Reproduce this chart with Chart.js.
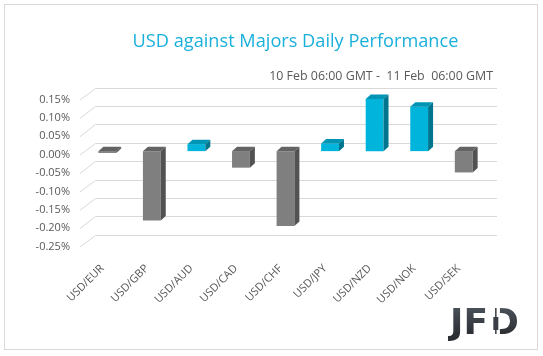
<!DOCTYPE html>
<html>
<head>
<meta charset="utf-8">
<script src="https://cdn.jsdelivr.net/npm/chart.js@4.4.1/dist/chart.umd.min.js"></script>
<style>
html,body{margin:0;padding:0;background:#fff;}
#wrap{width:543px;height:356px;position:relative;}
</style>
</head>
<body>
<div id="wrap"><canvas id="c" width="543" height="356"></canvas></div>
<script>
// ---- data ----
const categories = ['USD/EUR','USD/GBP','USD/AUD','USD/CAD','USD/CHF','USD/JPY','USD/NZD','USD/NOK','USD/SEK'];
const performance = [-0.005, -0.189, 0.019, -0.045, -0.204, 0.021, 0.142, 0.121, -0.058];
const yTickValues = [0.15, 0.10, 0.05, 0.00, -0.05, -0.10, -0.15, -0.20, -0.25];
const titleText = 'USD against Majors Daily Performance';
const subtitleText = '10 Feb 06:00 GMT -  11 Feb  06:00 GMT';
const logoText = 'JFD';

// ---- styles ----
const POS = {front:'#00B4DC', top:'#0094B5', side:'#00768E'};
const NEG = {front:'#7F7F7F', top:'#636363', side:'#525252'};
const DEPTH_X = 5, DEPTH_Y = 4.5;
const FONT = '"Open Sans", "DejaVu Sans", sans-serif';

const frontColors = performance.map(v => v >= 0 ? POS.front : NEG.front);

const framePlugin = {
  id: 'frame',
  beforeDraw(chart) {
    const ctx = chart.ctx;
    ctx.save();
    ctx.fillStyle = '#fff';
    ctx.fillRect(0, 0, chart.width, chart.height);
    ctx.strokeStyle = '#D9D9D9';
    ctx.lineWidth = 1;
    ctx.strokeRect(4.5, 4.5, 533, 345);
    ctx.restore();
  }
};

const wallGridPlugin = {
  id: 'wallGrid',
  beforeDatasetsDraw(chart) {
    const ctx = chart.ctx, y = chart.scales.y, a = chart.chartArea;
    ctx.save();
    ctx.strokeStyle = '#D9D9D9';
    ctx.lineWidth = 1;
    y.ticks.forEach(t => {
      const py = y.getPixelForValue(t.value);
      const back = Math.round(py - 8.3) + 0.5;
      ctx.beginPath();
      ctx.moveTo(a.left - 5, py + 4);
      ctx.lineTo(a.left + 10.5, back);
      ctx.lineTo(a.right + 11, back);
      ctx.stroke();
    });
    ctx.restore();
  }
};

const bar3dPlugin = {
  id: 'bar3d',
  afterDatasetsDraw(chart) {
    const ctx = chart.ctx;
    const meta = chart.getDatasetMeta(0);
    ctx.save();
    meta.data.forEach((bar, i) => {
      const v = performance[i];
      const c = v >= 0 ? POS : NEG;
      const p = bar.getProps(['x','y','base','width'], true);
      const left = p.x - p.width / 2, right = p.x + p.width / 2;
      const top = Math.min(p.y, p.base), bottom = Math.max(p.y, p.base);
      // top face
      ctx.fillStyle = c.top;
      ctx.beginPath();
      ctx.moveTo(left, top);
      ctx.lineTo(right, top);
      ctx.lineTo(right + DEPTH_X, top - DEPTH_Y);
      ctx.lineTo(left + DEPTH_X, top - DEPTH_Y);
      ctx.closePath();
      ctx.fill();
      // side face
      ctx.fillStyle = c.side;
      ctx.beginPath();
      ctx.moveTo(right, top);
      ctx.lineTo(right + DEPTH_X, top - DEPTH_Y);
      ctx.lineTo(right + DEPTH_X, bottom - DEPTH_Y);
      ctx.lineTo(right, bottom);
      ctx.closePath();
      ctx.fill();
    });
    ctx.restore();
  }
};

function fitFont(ctx, text, weight, targetW, start) {
  let size = start;
  ctx.font = weight + ' ' + size + 'px ' + FONT;
  const w = ctx.measureText(text).width;
  size = size * targetW / w;
  return weight + ' ' + size.toFixed(2) + 'px ' + FONT;
}

const headerPlugin = {
  id: 'header',
  afterDraw(chart) {
    const ctx = chart.ctx;
    ctx.save();
    // title
    ctx.font = fitFont(ctx, titleText, 'normal', 326, 18);
    ctx.fillStyle = '#1AB0DC';
    ctx.textAlign = 'center';
    ctx.textBaseline = 'middle';
    ctx.fillText(titleText, 295.5, 42);
    // subtitle
    ctx.font = fitFont(ctx, subtitleText, 'normal', 224, 12);
    ctx.fillStyle = '#595959';
    ctx.textAlign = 'right';
    ctx.fillText(subtitleText, 493, 76.5);
    // logo
    const size = 36;
    ctx.font = 'bold ' + size + 'px "DejaVu Sans", sans-serif';
    ctx.textAlign = 'left';
    ctx.textBaseline = 'alphabetic';
    const g = ctx.createLinearGradient(0, 308, 0, 334);
    g.addColorStop(0, '#4A5058');
    g.addColorStop(1, '#2C3035');
    ctx.fillStyle = g;
    const x0 = 450, base = 334;
    ctx.fillText(logoText.slice(0, 2), x0, base);
    const wJF = ctx.measureText(logoText.slice(0, 2)).width + 1;
    ctx.fillText(logoText.slice(2), x0 + wJF, base);
    // candlestick in the D stem
    const sx = x0 + wJF + size * 0.09, sw = size * 0.2;
    ctx.fillStyle = '#fff';
    ctx.fillRect(sx - 0.5, 306, sw + 1, 30);
    ctx.fillStyle = '#3A3F45';
    const cx = sx + sw / 2;
    ctx.fillRect(cx - 0.75, 308, 1.5, 26);
    ctx.fillRect(cx - 2.5, 317, 5, 13);
    ctx.restore();
  }
};

new Chart(document.getElementById('c'), {
  type: 'bar',
  data: {
    labels: categories,
    datasets: [{
      data: performance,
      backgroundColor: frontColors,
      borderWidth: 0,
      barPercentage: 0.4,
      categoryPercentage: 1.0
    }]
  },
  options: {
    responsive: false,
    animation: false,
    devicePixelRatio: 1,
    layout: {padding: {top: 96, right: 57, left: 0, bottom: 0}},
    plugins: {legend: {display: false}, tooltip: {enabled: false}, title: {display: false}},
    scales: {
      x: {
        grid: {display: false, drawTicks: false},
        border: {display: false},
        ticks: {
          autoSkip: false, maxRotation: 45, minRotation: 45,
          padding: 19, labelOffset: -5,
          color: '#595959', font: {family: FONT, size: 11}
        },
        afterFit(s) { s.height = 113; }
      },
      y: {
        min: -0.25, max: 0.15,
        grid: {display: false, drawTicks: false},
        border: {display: false},
        afterBuildTicks(s) { s.ticks = yTickValues.map(v => ({value: v})); },
        ticks: {
          padding: 15, labelOffset: 3.5,
          color: '#595959', font: {family: FONT, size: 11},
          callback: v => (Math.abs(v) < 1e-9 ? 0 : v).toFixed(2) + '%'
        },
        afterFit(s) { s.width = 85; }
      }
    }
  },
  plugins: [framePlugin, wallGridPlugin, bar3dPlugin, headerPlugin]
});
</script>
</body>
</html>
